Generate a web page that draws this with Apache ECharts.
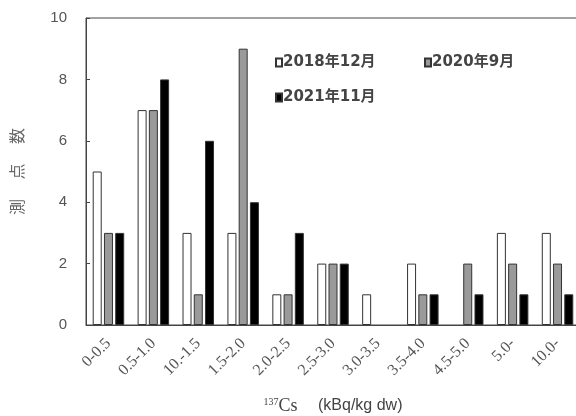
<!DOCTYPE html>
<html>
<head>
<meta charset="utf-8">
<script src="https://cdn.jsdelivr.net/npm/echarts@6/dist/echarts.min.js"></script>
<style>html,body{margin:0;padding:0;background:#fff}#c{width:576px;height:416px}</style>
</head>
<body>
<div id="c"></div>
<script>
const categories = ['0-0.5','0.5-1.0','10.-1.5','1.5-2.0','2.0-2.5','2.5-3.0','3.0-3.5','3.5-4.0','4.5-5.0','5.0-','10.0-'];
const seriesNames = ['2018年12月','2020年9月','2021年11月'];
const dec2018 = [5,7,3,3,1,2,1,2,0,3,3];
const sep2020 = [3,7,1,9,1,2,0,1,2,2,2];
const nov2021 = [3,8,6,4,3,2,0,1,1,1,1];
const yTicks = {min:0, max:10, interval:2};

const chart = echarts.init(document.getElementById('c'), null, {renderer:'canvas'});
const fills = ['#ffffff','#9a9a9a','#000000'];
const values = [dec2018, sep2020, nov2021];
const legendPos = [{left:275, top:55},{left:424, top:55},{left:275, top:90}];
const sansFont = 'Liberation Sans, "Noto Sans CJK JP", sans-serif';
const legendFont = '"DejaVu Sans", "Noto Sans CJK JP", sans-serif';
const option = {
  animation:false,
  backgroundColor:'#fff',
  grid:{left:86, top:18, width:494, bottom:91, outerBoundsMode:'none', containLabel:false, show:true, borderColor:'#444', borderWidth:1, backgroundColor:'transparent'},
  legend: seriesNames.map((n,i)=>({
    data:[n], left:legendPos[i].left, top:legendPos[i].top, padding:0,
    icon:'rect', itemWidth:6, itemHeight:8, itemGap:4,
    textStyle:{fontSize:15, fontWeight:'bold', color:'#444', fontFamily:legendFont, padding:[0,0,0,-4]}
  })),
  xAxis:{
    type:'category', data:categories, boundaryGap:true,
    axisLine:{lineStyle:{color:'#444', width:1}},
    axisTick:{inside:true, length:4, lineStyle:{color:'#444'}},
    axisLabel:{rotate:45, interval:0, margin:16, fontSize:16, color:'#555', fontFamily:'Liberation Serif, serif'},
    name:'{sup|137}{cs|Cs}{u|　 (kBq/kg dw)}', nameLocation:'middle', nameGap:72,
    nameTextStyle:{
      rich:{
        sup:{fontSize:10, fontFamily:'Liberation Serif, serif', color:'#444', verticalAlign:'top', padding:[0,0,8,0]},
        cs:{fontSize:18, fontFamily:'Liberation Serif, serif', color:'#444'},
        u:{fontSize:16, fontFamily:sansFont, color:'#444'}
      }
    }
  },
  yAxis:{
    type:'value', min:yTicks.min, max:yTicks.max, interval:yTicks.interval,
    axisLine:{show:true, lineStyle:{color:'#444', width:1}},
    axisTick:{show:true, inside:true, length:4, lineStyle:{color:'#444'}},
    splitLine:{show:false},
    axisLabel:{fontSize:15, color:'#555', margin:19, fontFamily:sansFont},
    name:'測 　点 　数', nameLocation:'middle', nameGap:61, nameRotate:90,
    nameTextStyle:{fontSize:16, color:'#666', fontFamily:'"Noto Sans CJK JP", sans-serif'}
  },
  series: seriesNames.map((n,i)=>({
    name:n, type:'bar', barWidth:9, barGap:'25%',
    data: values[i].map(v => v === 0 ? {value:v, itemStyle:{borderWidth:0, color:'transparent'}} : v),
    itemStyle:{color:fills[i], borderColor:'#333', borderWidth:1}
  }))
};
chart.setOption(option);
</script>
</body>
</html>
